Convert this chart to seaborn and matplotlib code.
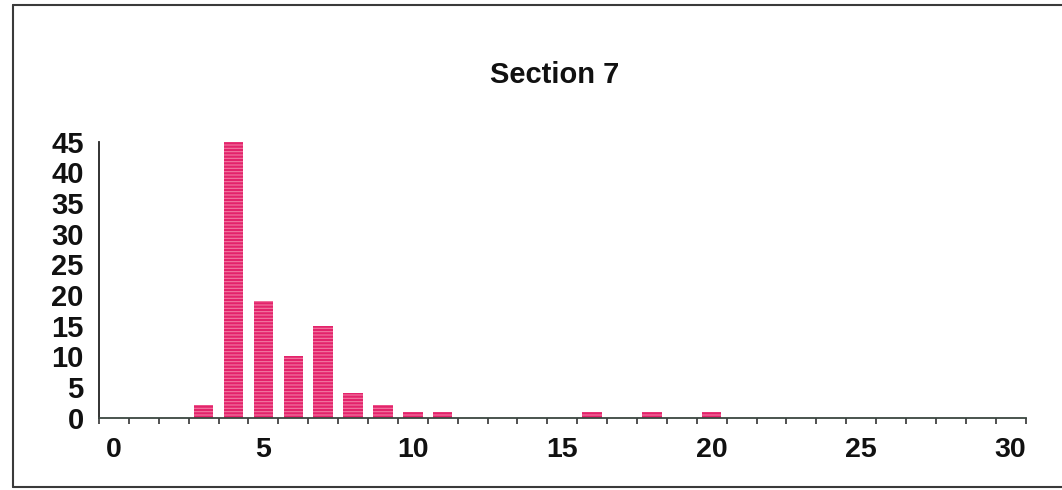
import matplotlib
matplotlib.use("Agg")
import matplotlib.pyplot as plt
from matplotlib.lines import Line2D
from matplotlib.ticker import FixedLocator
import seaborn as sns
import pandas as pd

# Frequency counts per category
categories = [3, 4, 5, 6, 7, 8, 9, 10, 11, 16, 18, 20]
counts = [2, 45, 19, 10, 15, 4, 2, 1, 1, 1, 1, 1]
x_labels = [0, 5, 10, 15, 20, 25, 30]
y_labels = [0, 5, 10, 15, 20, 25, 30, 35, 40, 45]
title = "Section 7"

sns.set_theme(style="white")
plt.rcParams["font.family"] = ["Liberation Sans", "DejaVu Sans"]
plt.rcParams["hatch.linewidth"] = 0.8

df = pd.DataFrame({"category": categories, "count": counts})

fig = plt.figure(figsize=(10.62, 4.9), dpi=100)
fig.patch.set_facecolor("white")
ax = fig.add_axes([0.0932, 0.1476, 0.8725, 0.5633])

sns.barplot(data=df, x="category", y="count", native_scale=True,
            width=0.65, color="#e3236b", saturation=1, ax=ax)
for bar in ax.patches:
    bar.set_hatch("-----")
    bar.set_edgecolor("#f27aa3")
    bar.set_linewidth(0)

ax.set_xlim(-0.5, 30.5)
ax.set_ylim(0, 45)
ax.set_xlabel("")
ax.set_ylabel("")

# Category labels sit mid-slot, tick marks on slot boundaries
ax.xaxis.set_major_locator(FixedLocator(x_labels))
ax.set_xticklabels([str(v) for v in x_labels])
ax.xaxis.set_minor_locator(FixedLocator([i - 0.5 for i in range(32)]))
ax.tick_params(axis="x", which="major", length=0, pad=14,
               labelsize=20.5, labelcolor="#111111")
ax.tick_params(axis="x", which="minor", length=4, width=1.2,
               direction="out", color="#333333", bottom=True)
ax.set_yticks(y_labels)
ax.tick_params(axis="y", length=0, pad=11, labelsize=21, labelcolor="#111111")
for lab in ax.get_xticklabels() + ax.get_yticklabels():
    lab.set_fontweight("bold")

for side in ("top", "right"):
    ax.spines[side].set_visible(False)
ax.spines["left"].set_color("#222222")
ax.spines["bottom"].set_color("#3a4640")
ax.spines["left"].set_linewidth(1.3)
ax.spines["bottom"].set_linewidth(1.3)

fig.text(0.5226, 0.847, title, ha="center", va="center",
         fontsize=21, fontweight="bold", color="#111111")

# Outer frame around the chart area
frame_kw = dict(color="#3a3a3a", linewidth=1.5, transform=fig.transFigure)
fig.add_artist(Line2D([0.0122, 1.0], [0.9898, 0.9898], **frame_kw))
fig.add_artist(Line2D([0.0122, 0.0122], [0.0061, 0.9898], **frame_kw))
fig.add_artist(Line2D([0.0122, 1.0], [0.0061, 0.0061], **frame_kw))

fig.savefig("out.png", dpi=100, facecolor="white")
